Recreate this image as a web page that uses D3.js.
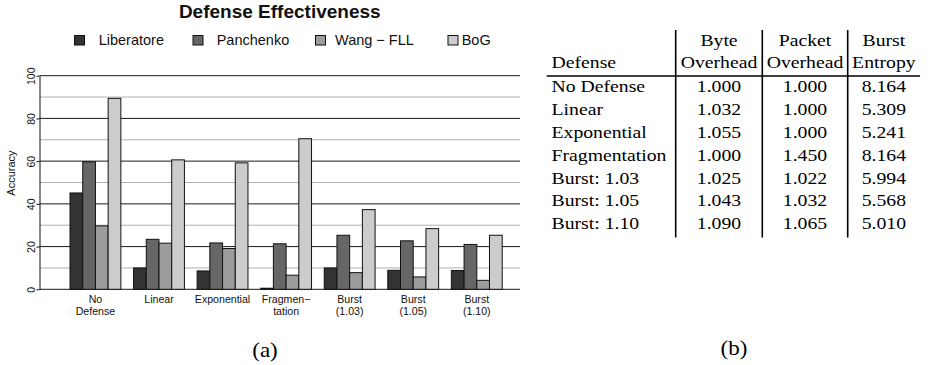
<!DOCTYPE html>
<html>
<head>
<meta charset="utf-8">
<script src="https://cdn.jsdelivr.net/npm/d3@7"></script>
<style>
  html, body { margin: 0; padding: 0; background: #fff; }
  svg { display: block; }
</style>
</head>
<body>
<script>
// ---- Chart data: classifier accuracy (%) under each defense ----
const categories = ["No\nDefense", "Linear", "Exponential", "Fragmen\u2212\ntation", "Burst\n(1.03)", "Burst\n(1.05)", "Burst\n(1.10)"];
const seriesNames = ["Liberatore", "Panchenko", "Wang \u2212 FLL", "BoG"];
const liberatore = [45.1, 10.0, 8.6, 0.5, 10.0, 8.9, 8.8];
const panchenko  = [59.7, 23.4, 21.7, 21.3, 25.3, 22.7, 21.0];
const wangFLL    = [29.7, 21.6, 19.1, 6.6, 7.8, 5.8, 4.2];
const bog        = [89.4, 60.6, 59.2, 70.5, 37.3, 28.4, 25.3];
const seriesValues = [liberatore, panchenko, wangFLL, bog];
const seriesColors = ["#333333", "#666666", "#9c9c9c", "#cccccc"];
const yTicks = [0, 20, 40, 60, 80, 100];

// ---- Table data: overhead and entropy per defense ----
const tableDefenses = ["No Defense", "Linear", "Exponential", "Fragmentation", "Burst: 1.03", "Burst: 1.05", "Burst: 1.10"];
const byteOverhead   = [1.000, 1.032, 1.055, 1.000, 1.025, 1.043, 1.090];
const packetOverhead = [1.000, 1.000, 1.000, 1.450, 1.022, 1.032, 1.065];
const burstEntropy   = [8.164, 5.309, 5.241, 8.164, 5.994, 5.568, 5.010];

const W = 928, H = 365;
const sans = "'Liberation Sans', Arial, sans-serif";
const serif = "'Liberation Serif', 'Times New Roman', serif";

const svg = d3.select("body").append("svg")
  .attr("width", W).attr("height", H)
  .attr("viewBox", `0 0 ${W} ${H}`);

// ---------------- (a) bar chart ----------------
const xu = d3.scaleLinear().domain([-1.4, 36.4]).range([39.5, 520]);
const x0 = d3.scaleBand().domain(categories)
  .range([xu(0), xu(35)]).paddingInner(0.2).paddingOuter(0.1).align(1);
const x1 = d3.scaleBand().domain(seriesNames).range([0, x0.bandwidth()]);
const y = d3.scaleLinear().domain([0, 100]).range([289.3, 75.7]);

// horizontal reference lines every 10, darker on the labelled ticks
const grid = svg.append("g");
grid.selectAll("line").data(d3.range(0, 101, 10)).join("line")
  .attr("x1", xu.range()[0]).attr("x2", xu.range()[1])
  .attr("y1", d => y(d)).attr("y2", d => y(d))
  .attr("stroke", d => d % 20 === 0 ? "#1a1a1a" : "#b0b0b0")
  .attr("stroke-width", 1);

// bars
const groups = svg.append("g").selectAll("g").data(categories).join("g")
  .attr("transform", d => `translate(${x0(d)},0)`);
groups.selectAll("rect")
  .data((c, i) => seriesNames.map((s, j) => ({ s, j, v: seriesValues[j][i] })))
  .join("rect")
  .attr("x", d => x1(d.s))
  .attr("y", d => y(d.v))
  .attr("width", x1.bandwidth())
  .attr("height", d => y(0) - y(d.v))
  .attr("fill", d => seriesColors[d.j])
  .attr("stroke", "#111")
  .attr("stroke-width", 1);

// y axis
const yAxis = svg.append("g")
  .attr("transform", `translate(${xu.range()[0]},0)`)
  .call(d3.axisLeft(y).tickValues(yTicks).tickSize(3).tickSizeOuter(0));
yAxis.select(".domain").attr("stroke", "#111");
yAxis.selectAll(".tick line").attr("stroke", "#111");
yAxis.selectAll(".tick text")
  .attr("x", null).attr("dy", null)
  .attr("transform", "translate(-4.5,0) rotate(-90)")
  .attr("text-anchor", "middle")
  .attr("font-family", sans).attr("font-size", 10.5).attr("fill", "#111");

svg.append("text")
  .attr("transform", "translate(15,173) rotate(-90)")
  .attr("text-anchor", "middle")
  .attr("font-family", sans).attr("font-size", 11).attr("fill", "#111")
  .text("Accuracy");

// category labels (two lines where needed)
const xl = svg.append("g").selectAll("text").data(categories).join("text")
  .attr("x", d => x0(d) + x0.bandwidth() / 2)
  .attr("y", 303)
  .attr("text-anchor", "middle")
  .attr("font-family", sans).attr("font-size", 10.6).attr("fill", "#111");
xl.selectAll("tspan").data(d => d.split("\n")).join("tspan")
  .attr("x", function () { return d3.select(this.parentNode).attr("x"); })
  .attr("dy", (d, i) => i === 0 ? 0 : 12.3)
  .text(d => d);

// title
svg.append("text")
  .attr("x", (xu.range()[0] + xu.range()[1]) / 2).attr("y", 18.3)
  .attr("text-anchor", "middle")
  .attr("font-family", sans).attr("font-size", 19).attr("font-weight", "bold")
  .attr("fill", "#111")
  .text("Defense Effectiveness");

// legend
const legendBoxX = [74.5, 193, 315.5, 448];
const legendTextX = [98.7, 216.7, 335, 461.7];
const legend = svg.append("g").selectAll("g").data(seriesNames).join("g");
legend.append("rect")
  .attr("x", (d, i) => legendBoxX[i]).attr("y", 35.5)
  .attr("width", 10).attr("height", 9.5)
  .attr("fill", (d, i) => seriesColors[i])
  .attr("stroke", "#111").attr("stroke-width", 1);
legend.append("text")
  .attr("x", (d, i) => legendTextX[i]).attr("y", 45.3)
  .attr("font-family", sans).attr("font-size", 14.5).attr("fill", "#111")
  .text(d => d);

// ---------------- (b) overhead table ----------------
const fmt = d3.format(".3f");
const tbl = svg.append("g");
const sx = 1.16;
function cell(x, yy, txt, anchor) {
  tbl.append("text")
    .attr("transform", `translate(${x},${yy}) scale(${sx},1)`)
    .attr("text-anchor", anchor)
    .attr("font-family", serif).attr("font-size", 17).attr("fill", "#000")
    .text(txt);
}
const colLines = [675.7, 762.3, 847.7];
const tableRight = 920, tableLeft = 546.7;
const colCenters = [
  (colLines[0] + colLines[1]) / 2,
  (colLines[1] + colLines[2]) / 2,
  (colLines[2] + tableRight) / 2
];
const leftX = 551.5;
const headTop = ["Byte", "Packet", "Burst"];
const headBottom = ["Overhead", "Overhead", "Entropy"];
headTop.forEach((t, i) => cell(colCenters[i], 45.7, t, "middle"));
headBottom.forEach((t, i) => cell(colCenters[i], 68.3, t, "middle"));
cell(leftX, 68.3, "Defense", "start");

const rowY = d3.scaleLinear().domain([0, 6]).range([92.3, 229.3]);
const columns = [byteOverhead, packetOverhead, burstEntropy];
tableDefenses.forEach((name, r) => {
  cell(leftX, rowY(r), name, "start");
  columns.forEach((col, c) => cell(colCenters[c], rowY(r), fmt(col[r]), "middle"));
});

tbl.append("line")
  .attr("x1", tableLeft).attr("x2", tableRight)
  .attr("y1", 76).attr("y2", 76)
  .attr("stroke", "#000").attr("stroke-width", 1.6);
tbl.selectAll("line.col").data(colLines).join("line")
  .attr("class", "col")
  .attr("x1", d => d).attr("x2", d => d)
  .attr("y1", 30).attr("y2", 237.5)
  .attr("stroke", "#000").attr("stroke-width", 1.6);

// sub-figure captions
function caption(x, yy, txt) {
  svg.append("text")
    .attr("transform", `translate(${x},${yy}) scale(1.15,1)`)
    .attr("text-anchor", "middle")
    .attr("font-family", serif).attr("font-size", 20).attr("fill", "#000")
    .text(txt);
}
caption(265, 357, "(a)");
caption(734, 355, "(b)");
</script>
</body>
</html>
